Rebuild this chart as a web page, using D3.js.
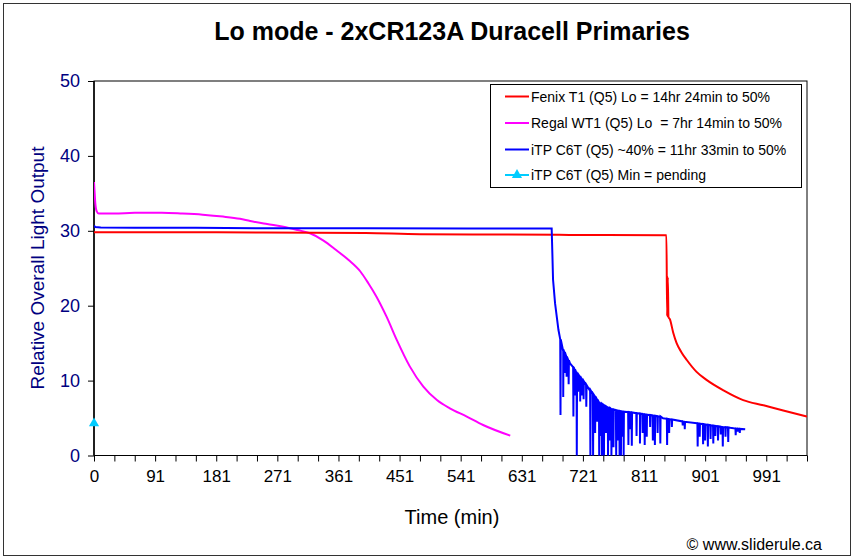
<!DOCTYPE html>
<html><head><meta charset="utf-8">
<script src="https://cdn.jsdelivr.net/npm/d3@7"></script>
<style>body{margin:0;background:#fff}svg{display:block;font-family:Arial,"Liberation Sans",sans-serif}</style>
</head><body>
<svg id="c" width="855" height="560"></svg>
<script>
const title = "Lo mode - 2xCR123A Duracell Primaries";
const xTickLabels = ["0","91","181","271","361","451","541","631","721","811","901","991"];
const yTicks = [0,10,20,30,40,50];
const seriesNames = ["Fenix T1 (Q5) Lo = 14hr 24min to 50%","Regal WT1 (Q5) Lo  = 7hr 14min to 50%","iTP C6T (Q5) ~40% = 11hr 33min to 50%","iTP C6T (Q5) Min = pending"];
const seriesColors = ["#ff0000","#ff00ff","#0000ff","#00ccff"];

const fenix = [[0,29.8],[100,29.8],[250,29.78],[400,29.7],[480,29.55],[600,29.5],[700,29.45],[843,29.4],[844,18.6],[845,23.8],[846,18.5],[848,18.2],[853,16.4],[858,15.0],[865,13.8],[873,12.75],[887,11.2],[902,10.1],[927,8.7],[956,7.4],[986,6.7],[1015,6.0],[1050,5.2]];
const regal = [[0,36.5],[1,35.0],[2,33.6],[4,32.6],[7,32.3],[30,32.3],[60,32.4],[100,32.4],[130,32.3],[160,32.15],[190,31.9],[215,31.6],[230,31.3],[255,30.9],[279,30.55],[300,30.1],[318,29.67],[338,28.7],[357,27.4],[375,26.1],[392,24.6],[404,23.0],[416,21.2],[431,18.5],[446,15.4],[465,11.9],[485,9.2],[505,7.4],[524,6.3],[549,5.2],[573,4.07],[613,2.65]];
const itpBase = [[0,30.7],[2,30.5],[10,30.45],[60,30.4],[150,30.4],[250,30.35],[400,30.35],[550,30.3],[674,30.3],[675,27],[676,23.5],[679,20.3],[684,16.75],[691,14.1],[701,12.3],[716,10.5],[730,8.7],[745,7.0],[760,6.3],[780,5.85],[804,5.6],[838,4.96],[888,4.3],[937,3.7],[959,3.5]];
// dips: [time, level before dip, bottom of dip]
const itpDips = [[687,15.5,5.4],[691,14.1,7.8],[693,13.8,11.0],[696,13.2,10.5],[699,12.7,9.5],[706,11.8,5.2],[708,11.5,8.0],[711,11.0,0],[713,10.8,8.5],[716,10.5,7.2],[718,10.2,8.0],[721,9.9,7.5],[725,9.4,6.5],[731,8.7,0],[735,8.2,0],[738,7.9,3.0],[741,7.5,4.5],[744,7.1,0],[746,6.95,2.6],[748,6.9,0],[751,6.7,0],[754,6.55,3.0],[757,6.4,0],[760,6.3,2.0],[762,6.2,0],[765,6.15,1.1],[769,6.05,0],[771,6.0,2.0],[774,5.95,0],[776,5.9,0],[778,5.87,2.5],[780,5.85,0],[787,5.8,1.4],[789,5.78,3.5],[792,5.75,1.3],[799,5.65,2.6],[804,5.6,1.6],[808,5.55,3.0],[811,5.5,1.4],[814,5.45,2.5],[819,5.4,3.8],[823,5.35,2.0],[826,5.3,1.4],[830,5.25,3.0],[834,5.2,1.6],[844,4.9,1.4],[847,4.85,3.0],[851,4.8,3.8],[867,4.55,4.0],[870,4.5,3.5],[889,4.3,1.2],[892,4.25,2.5],[897,4.2,1.5],[900,4.15,2.0],[904,4.1,1.2],[908,4.05,2.2],[912,4.0,1.6],[915,3.95,2.6],[919,3.9,2.0],[923,3.85,2.8],[926,3.8,1.2],[930,3.78,2.5],[934,3.75,1.8],[945,3.6,2.7],[948,3.58,3.2],[951,3.55,3.0]];
const itpMin = [[0,4.3]];

const svg = d3.select("#c");
const L=94, R=807, T=81, B=455.5;
const x = d3.scaleLinear().domain([0,1050]).range([L,R]);
const y = d3.scaleLinear().domain([0,50]).range([B,T]);

svg.append("rect").attr("x",3.5).attr("y",3.5).attr("width",847).attr("height",552).attr("fill","#fff").attr("stroke","#333").attr("stroke-width",1);

svg.append("text").attr("x",452).attr("y",40).attr("text-anchor","middle").attr("font-size",25).attr("font-weight","bold").text(title);

svg.append("defs").append("clipPath").attr("id","pc").append("rect").attr("x",L).attr("y",T).attr("width",R-L).attr("height",B-T+1);

// axes
const xa = svg.append("g").attr("transform",`translate(0,${B})`)
  .call(d3.axisBottom(x).tickValues(d3.range(0,1051,30)).tickSize(6).tickFormat((d,i)=> i%3===0 && xTickLabels[i/3]!==undefined ? xTickLabels[i/3] : ""));
xa.select(".domain").remove();
xa.selectAll("line").attr("stroke","#000");
xa.selectAll("text").attr("font-size",17).attr("fill","#000").attr("dy","1.05em").attr("font-family","Arial,'Liberation Sans',sans-serif");

const ya = svg.append("g").attr("transform",`translate(${L},0)`)
  .call(d3.axisLeft(y).tickValues(yTicks).tickSize(6).tickPadding(8));
ya.select(".domain").remove();
ya.selectAll("line").attr("stroke","#000");
ya.selectAll("text").attr("font-size",18).attr("fill","#000080").attr("font-family","Arial,'Liberation Sans',sans-serif");

svg.append("rect").attr("x",L).attr("y",T).attr("width",R-L).attr("height",B-T).attr("fill","none").attr("stroke","#000").attr("stroke-width",1);
svg.append("line").attr("x1",L).attr("x2",L).attr("y1",T).attr("y2",B).attr("stroke","#000").attr("stroke-width",1.5);

svg.append("text").attr("transform","translate(44,268) rotate(-90)").attr("text-anchor","middle").attr("font-size",19).attr("fill","#000080").text("Relative Overall Light Output");
svg.append("text").attr("x",452).attr("y",524).attr("text-anchor","middle").attr("font-size",20).attr("fill","#000").text("Time (min)");
svg.append("text").attr("x",822).attr("y",550).attr("text-anchor","end").attr("font-size",16).attr("fill","#000").text("\u00a9 www.sliderule.ca");

// data lines
const g = svg.append("g").attr("clip-path","url(#pc)");
const smooth = d3.line().x(d=>x(d[0])).y(d=>y(d[1])).curve(d3.curveMonotoneX);
const straight = d3.line().x(d=>x(d[0])).y(d=>y(d[1]));

g.append("path").attr("d",smooth(regal)).attr("fill","none").attr("stroke",seriesColors[1]).attr("stroke-width",2);
g.append("path").attr("d",smooth(fenix)).attr("fill","none").attr("stroke",seriesColors[0]).attr("stroke-width",2);

const itpAll = itpBase.concat(itpDips.flatMap(d=>[[d[0]-0.4,d[1]],[d[0],d[2]],[d[0]+0.4,d[1]]])).sort((a,b)=>a[0]-b[0]);
g.append("path").attr("d",straight(itpAll)).attr("fill","none").attr("stroke",seriesColors[2]).attr("stroke-width",2).attr("stroke-linejoin","miter");

const tri = d3.symbol().type(d3.symbolTriangle).size(45);
svg.selectAll(".mk").data(itpMin).join("path").attr("class","mk").attr("d",tri).attr("transform",d=>`translate(${x(d[0])},${y(d[1])})`).attr("fill",seriesColors[3]);

// legend
const lg = svg.append("g");
lg.append("rect").attr("x",490.5).attr("y",84.5).attr("width",311).attr("height",103).attr("fill","#fff").attr("stroke","#000").attr("stroke-width",1);
const rows=[96.5,123,149.5,175];
seriesNames.forEach((n,i)=>{
  lg.append("line").attr("x1",505).attr("x2",529).attr("y1",rows[i]).attr("y2",rows[i]).attr("stroke",seriesColors[i]).attr("stroke-width",2);
  if(i===3) lg.append("path").attr("d",tri).attr("transform",`translate(517,${rows[i]})`).attr("fill",seriesColors[i]);
  lg.append("text").attr("x",531).attr("y",rows[i]+5).attr("font-size",14).attr("fill","#000").attr("xml:space","preserve").style("white-space","pre").text(n);
});
</script>
</body></html>
